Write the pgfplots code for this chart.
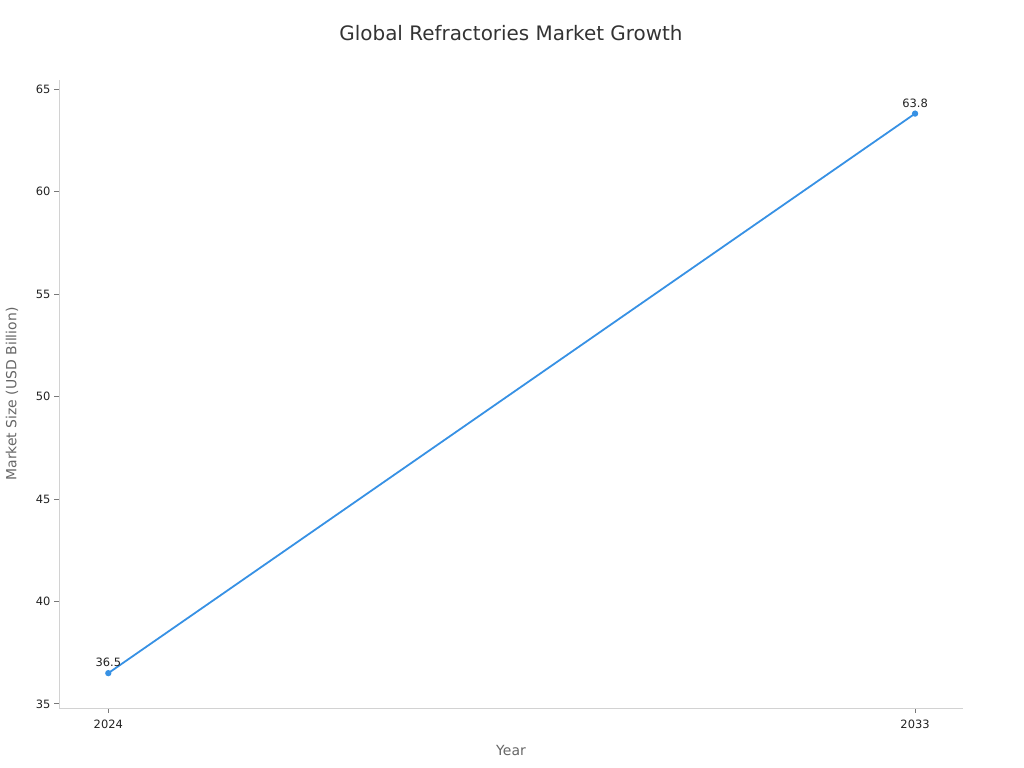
\documentclass[border=0pt]{standalone}
\usepackage{pgfplots}
\pgfplotsset{compat=1.18}
\usepackage{fontspec}
\setmainfont{DejaVu Sans}
\definecolor{linec}{RGB}{55,145,228}
\definecolor{axc}{RGB}{210,210,210}
\definecolor{tickc}{RGB}{120,120,120}
\definecolor{txt}{RGB}{34,34,34}
\definecolor{ttl}{RGB}{51,51,51}
\definecolor{lab}{RGB}{102,102,102}
\begin{document}
\begin{tikzpicture}[x=1bp,y=1bp]
\useasboundingbox (0,0) rectangle (1024,768);
\begin{axis}[
  at={(59bp,60bp)}, anchor=south west,
  scale only axis, width=904bp, height=628bp,
  xmin=2023.45, xmax=2033.535, ymin=34.8, ymax=65.44,
  axis x line*=bottom, axis y line*=left,
  axis line style={color=axc, line width=0.8bp},
  xtick={2024,2033}, ytick={35,40,...,65},
  tick style={color=tickc, line width=0.8bp},
  major tick length=5bp, tick align=outside,
  /pgf/number format/1000 sep={},
  /pgf/number format/assume math mode=true,
  ticklabel style={font=\fontsize{11.5}{13}\selectfont, text=txt},
  xticklabel style={yshift=-3bp},
  title={Global Refractories Market Growth},
  title style={at={(axis description cs:0.5,1)}, anchor=center, yshift=41bp, font=\fontsize{20}{23}\selectfont, text=ttl},
  xlabel={Year},
  ylabel={Market Size (USD Billion)},
  label style={font=\fontsize{14}{16}\selectfont, text=lab},
  xlabel style={at={(axis description cs:0.5,0)}, anchor=center, yshift=-43bp},
  ylabel style={at={(axis description cs:0,0.5)}, anchor=center, yshift=47bp},
  clip=false,
]
\addplot[color=linec, line width=1.8bp, mark=*, mark size=2.2bp,
  nodes near coords,
  nodes near coords style={font=\fontsize{11.5}{13}\selectfont, text=txt, anchor=south, yshift=2bp,
    /pgf/number format/fixed, /pgf/number format/fixed zerofill, /pgf/number format/precision=1}]
coordinates {(2024,36.5) (2033,63.8)};
\end{axis}
\end{tikzpicture}
\end{document}
